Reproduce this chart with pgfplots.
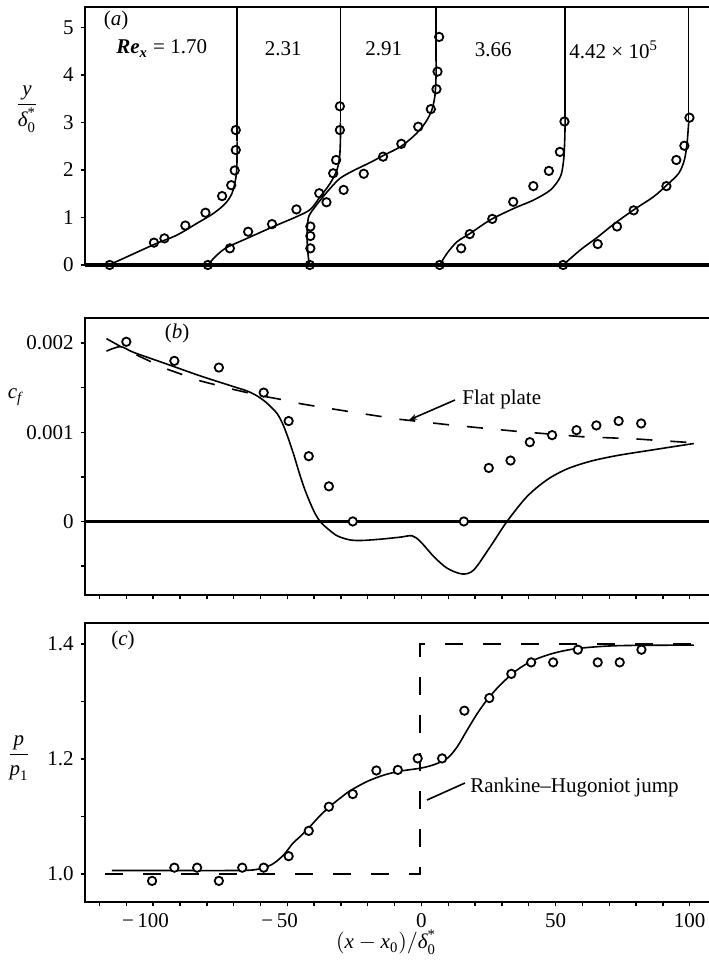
\documentclass[border=0pt]{standalone}
\usepackage{fontspec}
\setmainfont{Liberation Serif}
\usepackage{amsmath}
\usepackage{pgfplots}
\pgfplotsset{compat=1.18}
\usetikzlibrary{arrows.meta}

\pgfplotsset{
  panel/.style={
    scale only axis, width=313.5pt, anchor=south west,
    xmin=-125.4, xmax=108.3,
    tick align=outside, tick pos=left,
    major tick length=2.2pt, minor tick length=2.2pt,
    axis line style={line width=1pt},
    every tick/.style={black, line width=0.7pt},
    tick label style={font=\fontsize{10.5}{12}\selectfont},
    /pgf/number format/assume math mode=true,
    scaled y ticks=false,
  },
  curve/.style={black, line width=0.8pt, no marks},
  circ/.style={black, only marks, mark=o, mark size=2.1pt, mark options={line width=0.9pt}},
  circw/.style={black, only marks, mark=*, mark size=2.1pt, mark options={line width=0.9pt, fill=white}},
}

\begin{document}
\begin{tikzpicture}
\useasboundingbox (0,0) rectangle (354pt,481pt);

% (a) velocity profiles
\begin{axis}[panel, at={(42.5pt,348.5pt)}, height=129pt,
  ymin=0, ymax=5.43, ytick={0,1,2,3,4,5}, xtick=\empty,
  axis line style={line width=1.2pt}, clip=false]
\addplot[black, line width=1.7pt] coordinates {(-125.4,0) (108.3,0)};
% Re = 1.70
\addplot[curve, smooth] coordinates {(-116.5,0) (-111.0,0.14) (-104.8,0.30) (-98.5,0.46) (-91.1,0.63) (-83.6,0.88) (-77.4,1.09) (-73.0,1.30) (-70.6,1.51) (-69.3,1.79) (-68.8,2.07) (-68.7,2.6)};
\addplot[curve] coordinates {(-68.7,2.6) (-68.7,5.43)};
\addplot[circ] coordinates {(-116.2,0) (-99.7,0.47) (-95.8,0.56) (-88.0,0.83) (-80.5,1.10) (-74.3,1.45) (-70.9,1.68) (-69.6,1.99) (-69.2,2.42) (-69.2,2.84)};
% 2.31
\addplot[curve, smooth] coordinates {(-79.7,0) (-76.2,0.21) (-72.5,0.37) (-65.0,0.56) (-55.1,0.81) (-46.4,1.02) (-41.4,1.17) (-37.7,1.44) (-34.0,1.72) (-31.5,2.00) (-30.5,2.28) (-30.2,2.63) (-30.2,3.0)};
\addplot[curve] coordinates {(-30.2,3.0) (-30.2,5.43)};
\addplot[circ] coordinates {(-79.6,0) (-71.4,0.35) (-64.6,0.70) (-55.7,0.86) (-46.6,1.17) (-38.1,1.51) (-32.9,1.93) (-31.8,2.21) (-30.4,2.84) (-30.4,3.34)};
% 2.91
\addplot[curve, smooth] coordinates {(-41.8,0) (-42.3,0.25) (-42.6,0.53) (-42.5,0.81) (-42.0,1.02) (-40.1,1.19) (-37.6,1.37) (-33.9,1.62) (-30.2,1.83) (-25.2,1.99) (-19.0,2.16) (-14.0,2.31) (-7.5,2.50) (-2.0,2.76) (1.5,3.0) (3.8,3.25) (5.0,3.55) (5.4,3.9) (5.5,4.3)};
\addplot[curve] coordinates {(5.5,4.3) (5.5,5.43)};
\addplot[circ] coordinates {(-41.6,0) (-41.4,0.35) (-41.4,0.61) (-41.4,0.81) (-35.4,1.32) (-29.0,1.58) (-21.5,1.92) (-14.3,2.28) (-7.5,2.55) (-1.2,2.91) (3.5,3.28) (5.6,3.70) (6.0,4.07) (6.6,4.80)};
% 3.66
\addplot[curve, smooth] coordinates {(6.8,0) (9.6,0.25) (13.3,0.49) (18.3,0.67) (25.7,0.95) (34.4,1.19) (41.9,1.37) (48.1,1.58) (51.8,1.86) (53.0,2.21) (53.4,2.63) (53.6,3.1)};
\addplot[curve] coordinates {(53.6,3.1) (53.6,5.43)};
\addplot[circ] coordinates {(6.8,0) (14.8,0.35) (18.0,0.65) (26.4,0.97) (34.2,1.33) (41.7,1.66) (47.5,1.98) (51.6,2.38) (53.3,3.02)};
% 4.42e5
\addplot[curve, smooth] coordinates {(52.8,0) (59.3,0.32) (65.5,0.58) (71.7,0.86) (79.1,1.16) (86.6,1.44) (91.6,1.69) (95.9,1.93) (98.0,2.21) (99.0,2.56) (99.6,3.0)};
\addplot[curve] coordinates {(99.6,3.0) (99.6,5.43)};
\addplot[circ] coordinates {(52.8,0) (65.7,0.44) (72.9,0.81) (79.1,1.15) (91.3,1.66) (95.0,2.21) (98.0,2.51) (99.9,3.10)};
\end{axis}

% (b) skin friction
\begin{axis}[panel, at={(42.5pt,183.5pt)}, height=138.5pt,
  ymin=-0.000825, ymax=0.002282,
  ytick={0,0.001,0.002}, yticklabels={0,0.001,0.002},
  minor ytick={-0.0005,0.0005,0.0015},
  xtick={-100,-50,0,50,100}, minor xtick={-120,-110,...,100}, xticklabels={}]
\addplot[black, line width=1.6pt] coordinates {(-125.4,0) (108.3,0)};
\addplot[curve, smooth, tension=0.5] coordinates {(-117.4,0.00191) (-112.2,0.00196) (-107.2,0.001895) (-94.8,0.001764) (-82.4,0.001632) (-70.0,0.001512) (-65.0,0.001463) (-61.2,0.001407) (-57.5,0.001325) (-53.8,0.00121) (-51.5,0.00108) (-49.5,0.00092) (-47.5,0.00074) (-45.5,0.00054) (-43.5,0.00036) (-41.5,0.00021) (-39.5,0.00008) (-37.5,-0.00001) (-35,-0.00008) (-31.5,-0.00016) (-27,-0.000205) (-22.7,-0.000214) (-15.3,-0.000199) (-7.8,-0.000176) (-3.5,-0.000161) (-0.4,-0.000225) (4.6,-0.000394) (9.6,-0.000525) (15.2,-0.000589) (19.5,-0.000544) (25.7,-0.000281) (31.9,0) (39.4,0.000281) (46.9,0.000469) (54.3,0.000589) (63.0,0.000675) (72.9,0.000739) (85.4,0.000799) (101.5,0.000874)};
\addplot[curve, dash pattern=on 8pt off 9pt] coordinates {(-117.4,0.00205) (-112,0.00196) (-105,0.00185) (-95,0.00171) (-82.4,0.001576) (-70,0.00148) (-60,0.00141) (-52.6,0.00137) (-45,0.00132) (-39,0.00129) (-22.3,0.00121) (-7.8,0.001144) (11.4,0.00108) (35.7,0.00101) (60,0.00095) (79.1,0.000927) (101.5,0.000882)};
\addplot[circw] coordinates {(-110.0,0.002015) (-92.1,0.001801) (-75.5,0.001726) (-58.8,0.001445) (-49.5,0.001126) (-42.0,0.000732) (-34.5,0.000394) (-25.6,0) (15.8,0) (25.1,0.0006) (33.2,0.000683) (40.4,0.000889) (48.7,0.000968) (57.8,0.001024) (65.2,0.001077) (73.5,0.001126) (81.9,0.001099)};
\end{axis}

% (c) wall pressure
\begin{axis}[panel, at={(42.5pt,30pt)}, height=139.5pt,
  ymin=0.9513, ymax=1.4365,
  ytick={1.0,1.2,1.4}, yticklabels={1.0,1.2,1.4}, minor ytick={1.1,1.3},
  xtick={-100,-50,0,50,100}, minor xtick={-120,-110,...,100},
  xticklabels={{\llap{−\,}100},{\llap{−\,}50},0,50,100}]
\addplot[curve, dash pattern=on 9pt off 10pt] coordinates {(-117.8,1.0) (-0.5,1.0) (-0.5,1.4) (101.5,1.4)};
\addplot[curve, smooth, tension=0.5] coordinates {(-115.4,1.006) (-100,1.006) (-85,1.006) (-72.9,1.006) (-62.8,1.007) (-57.5,1.0127) (-54.3,1.021) (-51,1.035) (-48,1.053) (-45,1.066) (-42,1.080) (-38.5,1.098) (-34.5,1.116) (-30,1.133) (-26.5,1.145) (-20.2,1.161) (-14.0,1.172) (-7.8,1.179) (-0.4,1.184) (4.6,1.19) (9.6,1.201) (13.3,1.221) (17.0,1.25) (20.8,1.279) (24.5,1.303) (29.4,1.329) (35.7,1.355) (41.9,1.372) (49.3,1.384) (58.0,1.392) (72.9,1.397) (101.5,1.398)};
\addplot[circw] coordinates {(-100.4,0.988) (-92.1,1.011) (-83.6,1.011) (-75.5,0.988) (-66.8,1.011) (-58.8,1.011) (-49.5,1.031) (-42.0,1.075) (-34.5,1.117) (-25.6,1.139) (-16.8,1.18) (-8.8,1.181) (-1.4,1.201) (7.7,1.201) (16.0,1.284) (25.3,1.306) (33.5,1.348) (40.9,1.368) (49.1,1.368) (58.3,1.39) (65.7,1.368) (73.9,1.368) (82.0,1.39)};
\end{axis}

% labels, in pixel coordinates of the page
\begin{scope}[x=0.5pt, y=-0.5pt, shift={(0pt,481pt)}, font=\fontsize{10.5}{12}\selectfont]
\node at (27,109) {$\dfrac{\textit{y}}{\textit{δ}^{\textrm{*}}_{\textrm{0}}}$};
\node at (15,397) {$\textit{c}_{\textit{f}}$};
\node at (19,758) {$\dfrac{\textit{p}}{\textit{p}_{\textrm{1}}}$};
\node at (386,942) {$(\textit{x}-\textit{x}_{\textrm{0}})/\textit{δ}^{\textrm{*}}_{\textrm{0}}$};
\node at (116,20) {(\textit{a})};
\node at (177,333) {(\textit{b})};
\node at (123,640) {(\textit{c})};
\node at (161.7,48.5) {\textbf{\textit{Re}}\textsubscript{\textbf{\textit{x}}} = 1.70};
\node at (283.3,48.5) {2.31};
\node at (383.7,49) {2.91};
\node at (493.3,49.5) {3.66};
\node at (613.7,49.5) {4.42 × 10\textsuperscript{5}};
\node[anchor=west, inner sep=0pt] at (462,399) {Flat plate};
\draw[line width=0.8pt, -{Stealth[length=4pt,width=3pt]}] (455,400) -- (409,420);
\node[anchor=west, inner sep=0pt] at (470,787) {Rankine–Hugoniot jump};
\draw[line width=0.8pt] (465,783) -- (427,800);
\end{scope}
\end{tikzpicture}
\end{document}
